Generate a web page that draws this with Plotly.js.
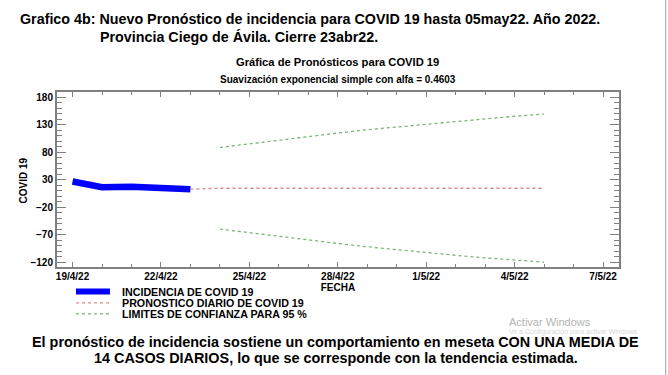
<!DOCTYPE html>
<html>
<head>
<meta charset="utf-8">
<script src="https://cdn.plot.ly/plotly-3.0.1.min.js"></script>
<style>html,body{margin:0;padding:0;background:#fff}#chart{width:668px;height:375px}</style>
</head>
<body>
<div id="chart"></div>
<script>
// ---- data ----
const obsDates = ['2022-04-19','2022-04-20','2022-04-21','2022-04-22','2022-04-23'];
const incidence = [27, 16.5, 17.5, 16.5, 13];

const fcDates = ['2022-04-23','2022-04-24','2022-04-25','2022-04-26','2022-04-27','2022-04-28','2022-04-29','2022-04-30','2022-05-01','2022-05-02','2022-05-03','2022-05-04','2022-05-05'];
const forecast = [13, 14.8, 14.8, 14.8, 14.8, 14.8, 14.8, 14.8, 14.8, 14.8, 14.8, 14.8, 14.8];

const limDates = ['2022-04-24','2022-04-25','2022-04-26','2022-04-27','2022-04-28','2022-04-29','2022-04-30','2022-05-01','2022-05-02','2022-05-03','2022-05-04','2022-05-05'];
const upper = [88.8, 95.5, 102.5, 109, 115, 121, 126, 131.5, 136.5, 141, 145.5, 149.5];
const lower = [-59.3, -66, -73, -79.5, -85.5, -91.5, -97, -102, -107, -111.5, -116, -119.5];

const xTickVals = ['2022-04-19','2022-04-22','2022-04-25','2022-04-28','2022-05-01','2022-05-04','2022-05-07'];
const xTickText = ['19/4/22','22/4/22','25/4/22','28/4/22','1/5/22','4/5/22','7/5/22'];
const yTickVals = [-120, -70, -20, 30, 80, 130, 180];

const seriesNames = ['INCIDENCIA DE COVID 19', 'PRONOSTICO DIARIO DE COVID 19', 'LIMITES DE CONFIANZA PARA 95 %'];
const seriesColors = ['#0000ff', '#d98a8a', '#7ab47a'];

const F = 'Liberation Sans, Arial, sans-serif';
const traces = [
  {x: obsDates, y: incidence, type: 'scatter', mode: 'lines', name: seriesNames[0],
   line: {color: seriesColors[0], width: 6.5}},
  {x: fcDates, y: forecast, type: 'scatter', mode: 'lines', name: seriesNames[1],
   line: {color: seriesColors[1], width: 1.3, dash: 'dot'}},
  {x: limDates, y: upper, type: 'scatter', mode: 'lines', name: seriesNames[2],
   line: {color: seriesColors[2], width: 1.3, dash: 'dot'}},
  {x: limDates, y: lower, type: 'scatter', mode: 'lines', name: seriesNames[2],
   line: {color: seriesColors[2], width: 1.3, dash: 'dot'}}
];

const W = 562.3, H = 174.4, L = 57, T = 92.3;
const px = v => (v - L) / W;
const py = v => (T + H - v) / H;

const ann = (text, x, y, size, opts) => Object.assign({
  text, xref: 'paper', yref: 'paper', x: px(x), y: py(y), xanchor: 'left', yanchor: 'middle',
  showarrow: false, font: {family: F, size, weight: 'bold', color: '#000'}
}, opts || {});

// custom legend (line samples + labels)
const legendY = [291, 302.5, 313.5];
const legendShapes = seriesNames.map((n, i) => ({
  type: 'line', xref: 'paper', yref: 'paper', x0: px(76), x1: px(110), y0: py(legendY[i]), y1: py(legendY[i]),
  line: {color: seriesColors[i], width: i === 0 ? 6 : 1.3, dash: i === 0 ? 'solid' : 'dot'}
}));
const legendAnns = seriesNames.map((n, i) => ann(n, 120, legendY[i] + 0.5, 10.7));

const layout = {
  width: 668, height: 375,
  margin: {l: 57, r: 48.7, t: 92.3, b: 108.3, pad: 0},
  paper_bgcolor: '#fff', plot_bgcolor: '#fff',
  font: {family: F, color: '#000'},
  showlegend: false,
  xaxis: {
    type: 'date', range: ['2022-04-18 11:20', '2022-05-07 13:00'],
    tickvals: xTickVals, ticktext: xTickText,
    ticks: 'inside', ticklen: 5, tickcolor: '#808080', tickwidth: 1,
    minor: {ticks: 'inside', dtick: 86400000, ticklen: 3, tickcolor: '#808080'},
    showline: true, linecolor: '#808080', linewidth: 2, mirror: 'allticks',
    showgrid: false, zeroline: false, ticklabelstandoff: -1,
    tickfont: {family: F, size: 10, color: '#000', weight: 'bold'},
    title: {text: 'FECHA', font: {family: F, size: 10, color: '#000', weight: 'bold'}, standoff: 2}
  },
  yaxis: {
    range: [-128.2, 189.5],
    tickvals: yTickVals,
    ticks: 'inside', ticklen: 9, tickcolor: '#808080', tickwidth: 1,
    minor: {ticks: 'inside', dtick: 10, tick0: 0, ticklen: 5, tickcolor: '#808080'},
    showline: true, linecolor: '#808080', linewidth: 2, mirror: 'allticks',
    showgrid: false, zeroline: false,
    tickfont: {family: F, size: 10, color: '#000', weight: 'bold'}
  },
  annotations: [
    ann('Grafico 4b: Nuevo Pronóstico de incidencia para COVID 19 hasta 05may22. Año 2022.', 18, 20, 14.3),
    ann('Provincia Ciego de Ávila. Cierre 23abr22.', 98, 37, 14.3),
    ann('Gráfica de Pronósticos para COVID 19', 338, 62, 11.2, {xanchor: 'center'}),
    ann('Suavización exponencial simple con alfa = 0.4603', 338, 80, 10, {xanchor: 'center'}),
    ann('COVID 19', 22.5, 181, 10, {xanchor: 'center', textangle: -90}),
    ann('El pronóstico de incidencia sostiene un comportamiento en meseta CON UNA MEDIA DE', 336, 341, 14.4, {xanchor: 'center'}),
    ann('14 CASOS DIARIOS, lo que se corresponde con la tendencia estimada.', 336, 357, 14.4, {xanchor: 'center'}),
    ann('Activar Windows', 507, 322, 11, {font: {family: F, size: 11, color: '#b4b4b4'}}),
    ann('Ve a Configuración para activar Windows', 507, 331, 7, {font: {family: F, size: 7, color: '#d8d8d8'}})
  ].concat(legendAnns),
  shapes: [
    {type: 'line', xref: 'paper', yref: 'paper', x0: px(666), x1: px(666), y0: py(0), y1: py(375),
     line: {color: '#a0a0a0', width: 1}}
  ].concat(legendShapes)
};

Plotly.newPlot('chart', traces, layout, {staticPlot: true, displayModeBar: false});
</script>
</body>
</html>
